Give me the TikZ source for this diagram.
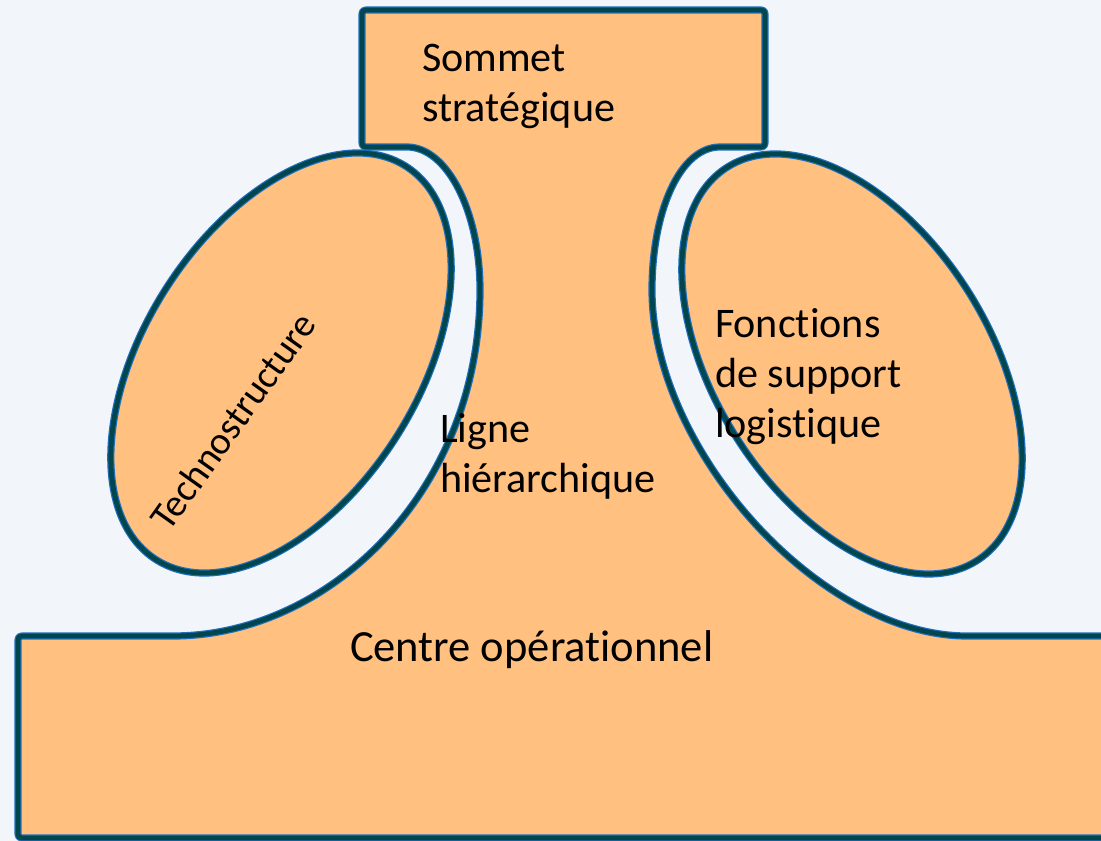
\documentclass[tikz,border=0pt]{standalone}
\usepackage{fontspec}
\setmainfont{Carlito}[Ligatures=NoCommon]
\definecolor{bgc}{HTML}{F2F5FA}
\definecolor{fillc}{HTML}{FFC080}
\definecolor{darkc}{HTML}{00464F}
\definecolor{bluec}{HTML}{1F6FBF}
\begin{document}
\begin{tikzpicture}[x=0.75pt,y=-0.75pt,
  outline/.style={draw=bluec, double=darkc, double distance=3.6pt, line width=0.9pt, line join=round},
  lbl/.style={inner sep=0pt, outer sep=0pt, font=\fontsize{31.6}{37.5}\selectfont, anchor=base west, text=black}]
\useasboundingbox (0,0) rectangle (1101,841);
\clip (0,0) rectangle (1101,841);
\fill[bgc] (0,0) rectangle (1101,841);
% main shape: sommet + ligne hierarchique + centre operationnel
\path[fill=fillc, outline]
  (407,147) .. controls (447,147) and (480,211) .. (480,290)
  .. controls (480,490) and (330,636) .. (173,636)
  -- (26,636) .. controls (18,636) .. (18,644)
  -- (18,830) .. controls (18,838) .. (26,838)
  -- (1120,838) -- (1120,636)
  -- (967,636) .. controls (820,636) and (652,450) .. (652,290)
  .. controls (652,211) and (680,147) .. (720,147)
  -- (757,147) .. controls (765,147) .. (765,139)
  -- (765,18) .. controls (765,10) .. (757,10)
  -- (370,10) .. controls (362,10) .. (362,18)
  -- (362,139) .. controls (362,147) .. (370,147)
  -- cycle;
% ellipses
\coordinate (ctech) at (281,363);
\coordinate (csupp) at (852,364);
\path[fill=fillc, outline, rotate around={57.6:(ctech)}] (ctech) ellipse [x radius=174.75pt, y radius=102.75pt];
\path[fill=fillc, outline, rotate around={-57.6:(csupp)}] (csupp) ellipse [x radius=174.75pt, y radius=102.75pt];
% labels
\node[lbl] (sommet) at (422,72) {\begin{tabular}[t]{@{}l@{}}Sommet\\strat\'egique\end{tabular}};
\node[lbl, anchor=center, rotate=54.5, font=\fontsize{29}{34}\selectfont] (techno) at (233,421) {Technostructure};
\node[lbl] (ligne) at (440,443) {\begin{tabular}[t]{@{}l@{}}Ligne\\hi\'erarchique\end{tabular}};
\node[lbl] (support) at (715,338) {\begin{tabular}[t]{@{}l@{}}Fonctions\\de support\\logistique\end{tabular}};
\node[lbl, font=\fontsize{33.4}{40}\selectfont] (centre) at (350,662) {Centre op\'erationnel};
\end{tikzpicture}
\end{document}
